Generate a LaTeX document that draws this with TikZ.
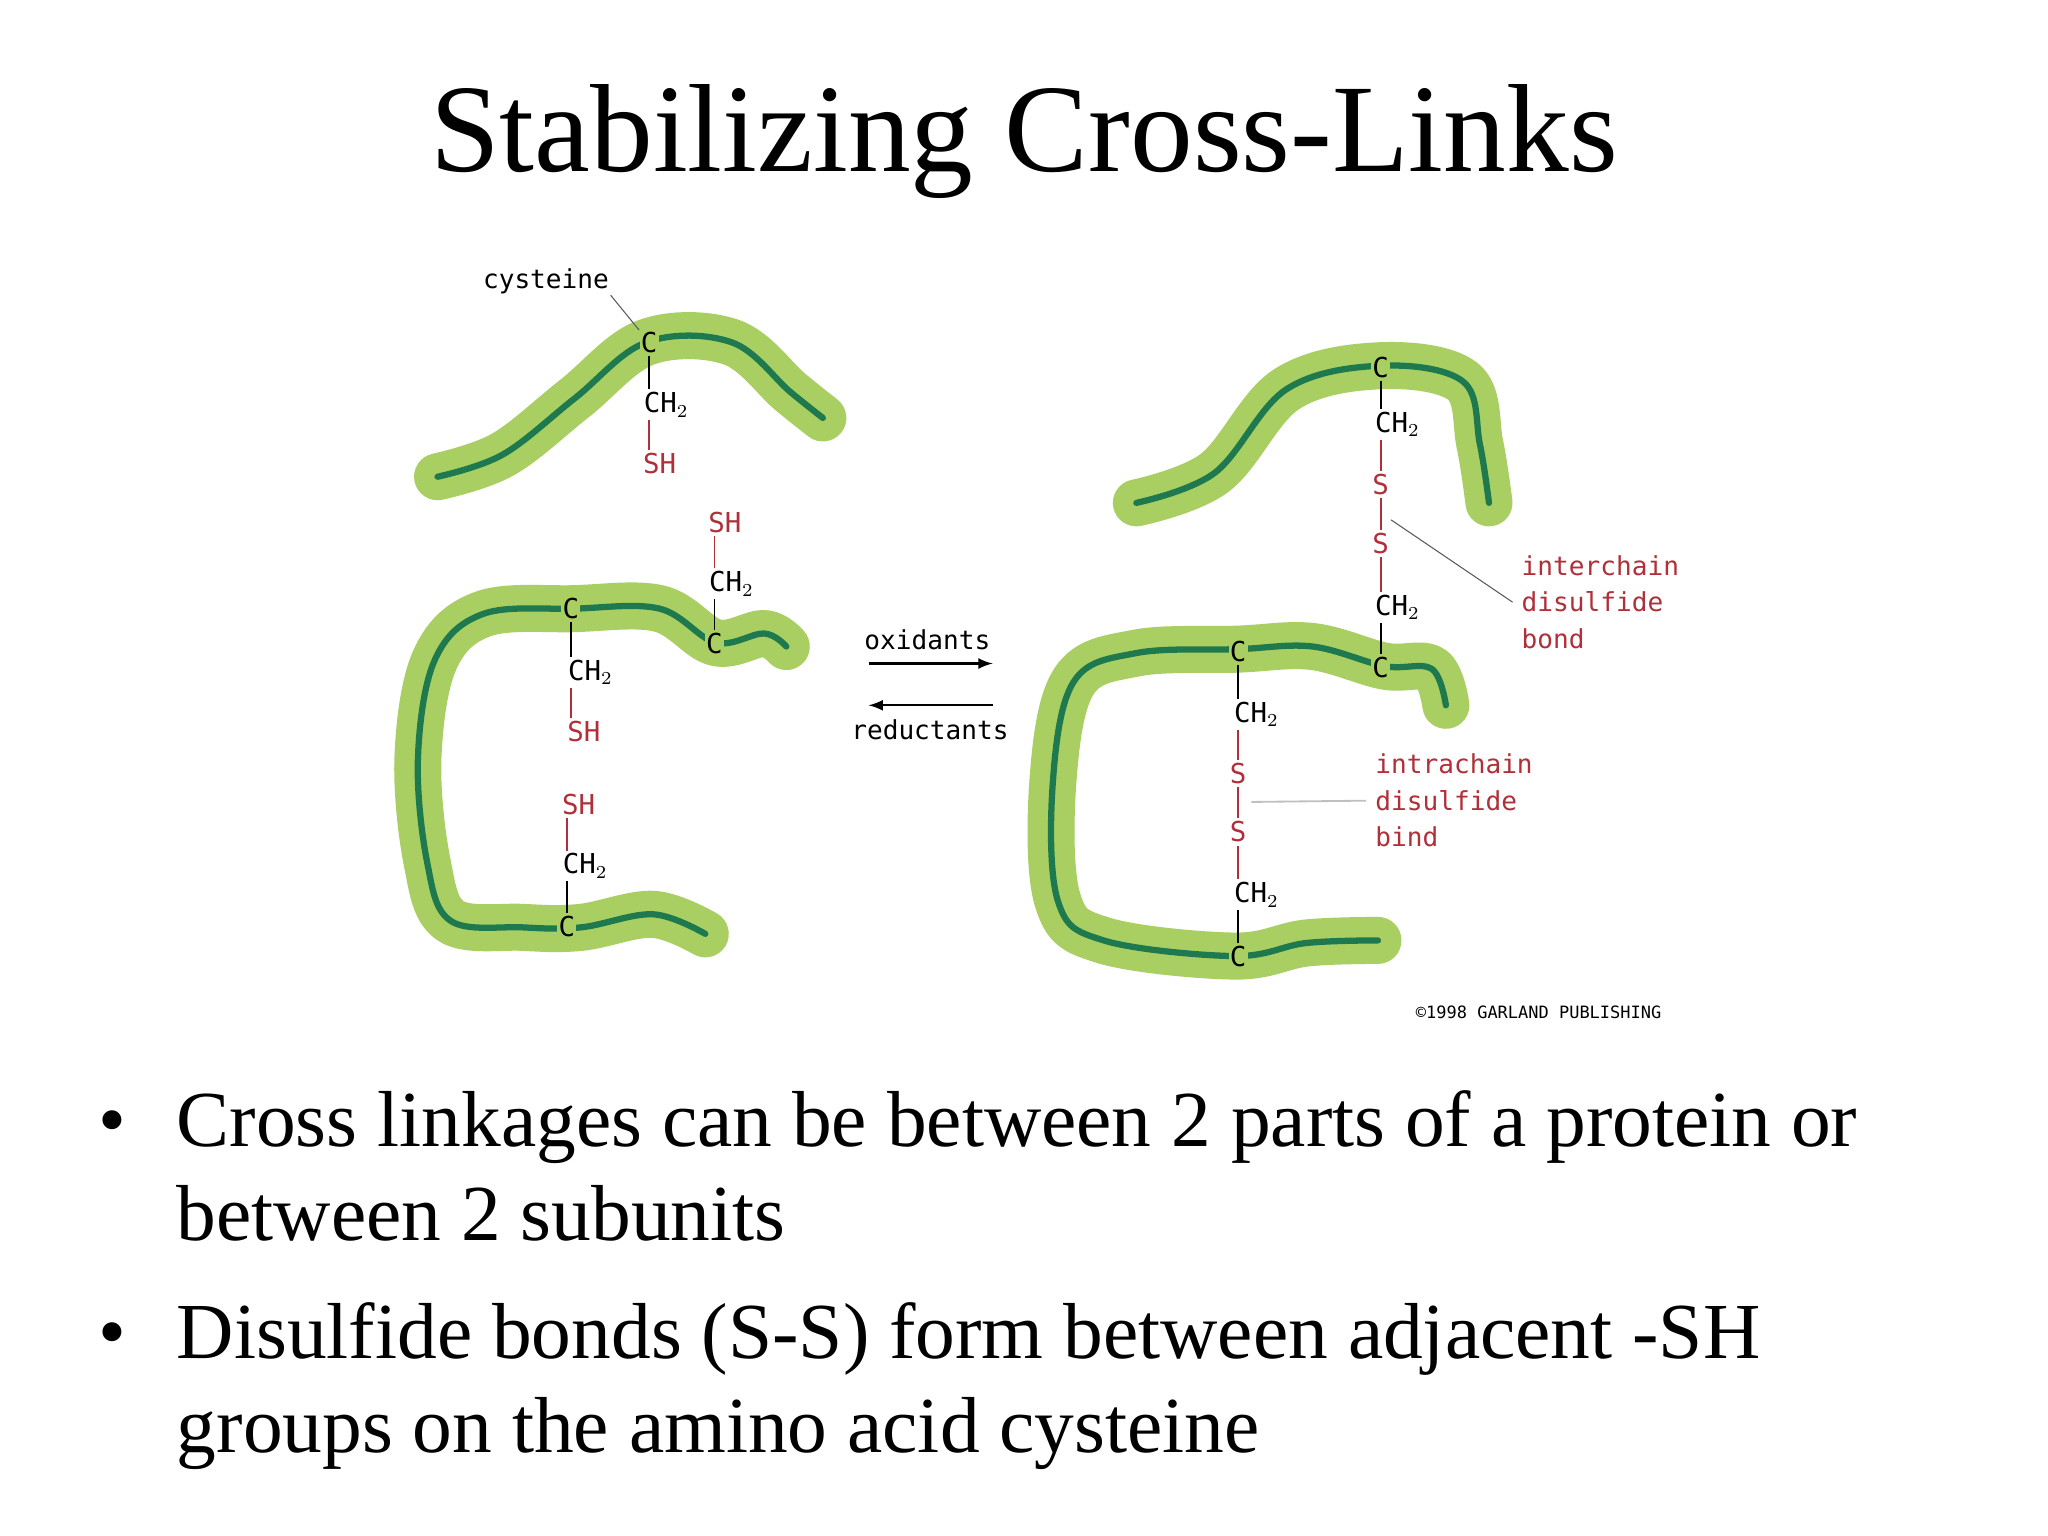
\documentclass[tikz,border=0pt]{standalone}
\usepackage{fontspec}
\setmainfont{Liberation Serif}
\newfontfamily\labfont{DejaVu Sans Mono}
\begin{document}
\begin{tikzpicture}[x=0.5pt,y=-0.5pt,
  outer/.style={line width=18pt,color=chainlight,line cap=round,line join=round},
  inner/.style={line width=2.4pt,color=chaindark,line cap=round,line join=round},
  at0/.style={font=\labfont\fontsize{10.5}{12}\selectfont,inner sep=0.5pt},
  onchain/.style={at0,fill=chainlight},
  red0/.style={at0,text=bondred},
  bk/.style={line width=0.7pt,black,shorten <=0.5pt,shorten >=0.5pt},
  rb/.style={line width=0.7pt,bondred,shorten <=0.5pt,shorten >=0.5pt},
  lab/.style={font=\labfont\fontsize{10}{14}\selectfont,text=bondred,align=left,anchor=west},
  bul/.style={font=\fontsize{30.4}{36}\selectfont,anchor=base west,inner sep=0}]
\definecolor{chainlight}{HTML}{A9CF63}
\definecolor{chaindark}{HTML}{1E7A4E}
\definecolor{bondred}{HTML}{B0303A}
\useasboundingbox (0,0) rectangle (1568,1176);
\fill[white] (0,0) rectangle (1568,1176);
\node[font=\fontsize{48}{52}\selectfont] (title) at (784,108) {Stabilizing Cross-Links};
% chains
\def\chA{(335,365)(385,348)(440,305)(495,262)(560,262)(605,300)(630,320)}
\def\chB{(602,495)(585,485)(548,492)(505,466)(440,466)(370,470)(333,505)(320,580)(327,660)(345,705)(400,710)(445,710)(500,700)(540,715)}
\def\chC{(870,385)(930,362)(985,298)(1057,280)(1120,292)(1133,340)(1140,385)}
\def\chD{(1107,540)(1096,512)(1060,510)(1005,495)(948,497)(870,500)(822,522)(806,600)(810,690)(845,720)(945,732)(1000,722)(1055,720)}
\foreach \c in {\chA,\chB,\chC,\chD}{
  \draw[outer] plot[smooth,tension=0.6] coordinates {\c};}
\foreach \c in {\chA,\chB,\chC,\chD}{
  \draw[inner] plot[smooth,tension=0.6] coordinates {\c};}
% left top
\node[onchain] (a1) at (497,262) {C};
\node[at0] (a2) at (510,310) {CH$_2$};
\node[red0] (a3) at (505,355) {SH};
\draw[bk] (a1.south) -- (a1.south|-a2.north);
\draw[rb] (a3.north-|a1) -- (a1|-a2.south);
% middle
\node[red0] (b1) at (555,400) {SH};
\node[at0] (b2) at (560,447) {CH$_2$};
\node[onchain] (b3) at (547,493) {C};
\draw[rb] (b1.south-|b3) -- (b3|-b2.north);
\draw[bk] (b3|-b2.south) -- (b3.north);
% left
\node[onchain] (c1) at (437,466) {C};
\node[at0] (c2) at (452,515) {CH$_2$};
\node[red0] (c3) at (447,560) {SH};
\draw[bk] (c1.south) -- (c1|-c2.north);
\draw[rb] (c1|-c2.south) -- (c1|-c3.north);
% lower
\node[red0] (d1) at (443,616) {SH};
\node[at0] (d2) at (448,663) {CH$_2$};
\node[onchain] (d3) at (434,709) {C};
\draw[rb] (d3|-d1.south) -- (d3|-d2.north);
\draw[bk] (d3|-d2.south) -- (d3.north);
% right inter
\node[onchain] (e1) at (1057,281) {C};
\node[at0] (e2) at (1070,325) {CH$_2$};
\node[red0] (e3) at (1057,371) {S};
\node[red0] (e4) at (1057,416) {S};
\node[at0] (e5) at (1070,465) {CH$_2$};
\node[onchain] (e6) at (1057,511) {C};
\draw[bk] (e1.south) -- (e1|-e2.north);
\draw[rb] (e1|-e2.south) -- (e3.north);
\draw[rb] (e3.south) -- (e4.north);
\draw[rb] (e4.south) -- (e1|-e5.north);
\draw[bk] (e1|-e5.south) -- (e6.north);
% right intra
\node[onchain] (f1) at (948,499) {C};
\node[at0] (f2) at (962,547) {CH$_2$};
\node[red0] (f3) at (948,592) {S};
\node[red0] (f4) at (948,637) {S};
\node[at0] (f5) at (962,685) {CH$_2$};
\node[onchain] (f6) at (948,732) {C};
\draw[bk] (f1.south) -- (f1|-f2.north);
\draw[rb] (f1|-f2.south) -- (f3.north);
\draw[rb] (f3.south) -- (f4.north);
\draw[rb] (f4.south) -- (f1|-f5.north);
\draw[bk] (f1|-f5.south) -- (f6.north);
% labels
\node[at0,font=\labfont\fontsize{10}{12}\selectfont] (cys) at (418,215) {cysteine};
\draw[line width=0.4pt,gray!70!black] (cys.south east) -- (a1.north west);
\node[lab] (inter) at (1158,461) {interchain\\disulfide\\bond};
\coordinate (ip) at (1065,398);
\draw[line width=0.4pt,gray!70!black] (ip) -- (inter.west);
\node[lab] (intra) at (1046,613) {intrachain\\disulfide\\bind};
\coordinate (jp) at (958,614);
\draw[line width=0.7pt,gray!50] (jp) -- (intra.west);
% arrows
\node[at0,font=\labfont\fontsize{10}{12}\selectfont] (ox) at (710,490) {oxidants};
\node[at0,font=\labfont\fontsize{10}{12}\selectfont] (red) at (712,559) {reductants};
\coordinate (r1) at (665,508); \coordinate (r2) at (760,508);
\coordinate (l1) at (760,540); \coordinate (l2) at (665,540);
\draw[-latex,line width=0.9pt] (r1) -- (r2);
\draw[-latex,line width=0.9pt] (l1) -- (l2);
\node[font=\labfont\fontsize{6.5}{8}\selectfont] (copy) at (1178,775) {\textcopyright1998 GARLAND PUBLISHING};
% bullets
\node[bul] (b1d) at (75,878) {•};
\node[bul] (t1) at (135,878) {Cross linkages can be between 2 parts of a protein or};
\node[bul] (t2) at (135,950) {between 2 subunits};
\node[bul] (b2d) at (75,1040) {•};
\node[bul] (t3) at (135,1040) {Disulfide bonds (S-S) form between adjacent -SH};
\node[bul] (t4) at (135,1112) {groups on the amino acid cysteine};
\end{tikzpicture}
\end{document}
